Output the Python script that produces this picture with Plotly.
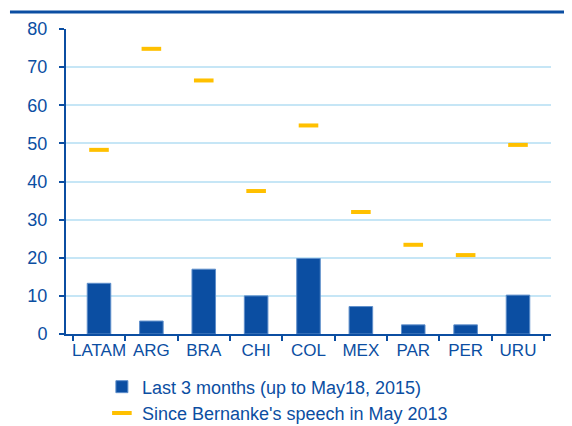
import plotly.graph_objects as go

categories = ["LATAM", "ARG", "BRA", "CHI", "COL", "MEX", "PAR", "PER", "URU"]
last3m = [13.3, 3.4, 17.0, 10.0, 19.8, 7.2, 2.4, 2.4, 10.2]
since_bernanke = [48.3, 74.8, 66.5, 37.5, 54.7, 32.0, 23.4, 20.7, 49.6]

BLUE = "#0b4ea2"
GOLD = "#ffc000"
GRID = "#c6e6f6"

fig = go.Figure()
fig.add_trace(go.Bar(
    x=categories, y=last3m, name="Last 3 months (up to May18, 2015)",
    marker=dict(color=BLUE, line=dict(color="#5f8fcb", width=1)),
    width=0.45,
))
fig.add_trace(go.Scatter(
    x=categories, y=since_bernanke, mode="markers",
    name="Since Bernanke's speech in May 2013",
    marker=dict(symbol="line-ew", size=14, color=GOLD,
                line=dict(color=GOLD, width=4)),
))

fig.update_layout(
    width=564, height=418,
    margin=dict(l=58, r=21, t=21, b=92, autoexpand=False),
    plot_bgcolor="white", paper_bgcolor="white",
    font=dict(family="Liberation Sans, Arial, sans-serif", size=18, color=BLUE),
    showlegend=True,
    legend=dict(x=0.074, y=-0.113, xanchor="left", yanchor="top",
                font=dict(size=18, color=BLUE), tracegroupgap=0,
                bgcolor="rgba(0,0,0,0)", itemwidth=30),
    bargap=0.5,
    shapes=[dict(type="line", xref="paper", yref="paper",
                 x0=-0.1155, x1=1.05, y0=1.0557, y1=1.0557,
                 line=dict(color=BLUE, width=3))],
)
fig.update_yaxes(range=[0, 80], dtick=10, showgrid=True, gridcolor=GRID,
                 gridwidth=1.5, showline=True, linecolor=BLUE, linewidth=2,
                 ticks="outside", tickcolor=BLUE, ticklen=5, tickwidth=2,
                 zeroline=False, tickfont=dict(size=18, color=BLUE),
                 automargin=False, ticklabelstandoff=8)
fig.update_xaxes(showline=True, linecolor=BLUE, linewidth=2,
                 ticks="outside", tickcolor=BLUE, ticklen=5, tickwidth=2,
                 tickson="boundaries", showgrid=False, tickangle=0,
                 tickfont=dict(size=17, color=BLUE), automargin=False)

fig.write_html("out.html")
